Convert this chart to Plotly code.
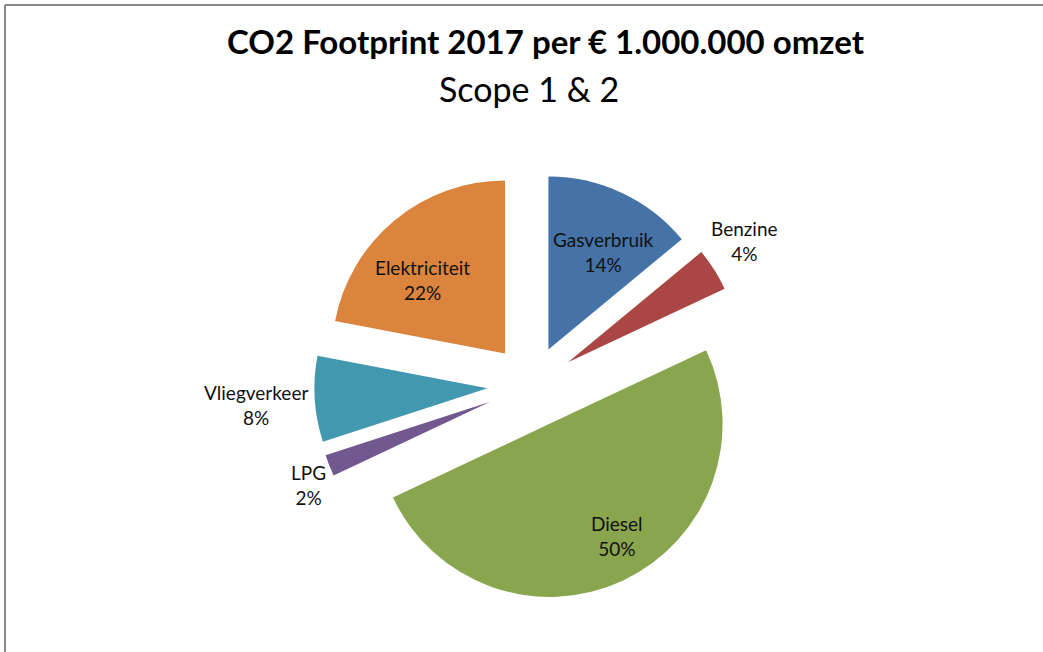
import math
import plotly.graph_objects as go

# ---- data ----
categories = ["Gasverbruik", "Benzine", "Diesel", "LPG", "Vliegverkeer", "Elektriciteit"]
values = [14, 4, 50, 2, 8, 22]
title_text = "CO2 Footprint 2017 per € 1.000.000 omzet"
subtitle_text = "Scope 1 & 2"

# ---- styles ----
colors = ["#4572A7", "#AA4643", "#89A54E", "#71588F", "#4198AF", "#DB843D"]
pulls = [0.23, 0.25, 0.245, 0.257, 0.255, 0.24]
# data-label placement (radius fraction from pie centre, angle offset in degrees)
label_rho = [0.876, 1.487, 1.0, 1.415, 1.596, 0.874]
label_dtheta = [3.0, -1.65, -4.4, -2.5, -0.55, -6.4]
FONT = "Lato"

W, H = 1043, 652
L, R, T, B = 100, 80, 168, 49
pw, ph = W - L - R, H - T - B


def px_x(x):
    return (x - L) / pw


def px_y(y):
    return 1 - (y - T) / ph


fig = go.Figure(
    go.Pie(
        labels=categories,
        values=values,
        sort=False,
        direction="clockwise",
        rotation=0,
        pull=pulls,
        marker=dict(colors=colors, line=dict(width=0)),
        textinfo="none",
        showlegend=False,
        hoverinfo="label+percent",
    )
)

# data labels, positioned from the slice angles (same geometry plotly uses)
total = sum(values)
cx, cy = L + pw / 2, T + ph / 2
radius = min(pw, ph) / (2 + 2 * max(pulls))
cum = 0
for cat, v, rho, dth in zip(categories, values, label_rho, label_dtheta):
    mid = (cum + v / 2) / total * 360 + dth
    cum += v
    a = math.radians(mid)
    lx = cx + rho * radius * math.sin(a)
    ly = cy - rho * radius * math.cos(a)
    fig.add_annotation(
        text=f"{cat}<br>{round(v / total * 100)}%",
        xref="paper", yref="paper",
        x=px_x(lx), y=px_y(ly),
        xanchor="center", yanchor="middle",
        showarrow=False,
        font=dict(family=FONT, size=19, color="#111111"),
    )

fig.add_annotation(
    text="<b>" + title_text + "</b>",
    xref="paper", yref="paper",
    x=px_x(545.7), y=px_y(41),
    xanchor="center", yanchor="middle",
    showarrow=False,
    font=dict(family=FONT, size=33, color="#000000"),
)
fig.add_annotation(
    text=subtitle_text,
    xref="paper", yref="paper",
    x=px_x(529.3), y=px_y(88),
    xanchor="center", yanchor="middle",
    showarrow=False,
    font=dict(family=FONT, size=34, color="#000000"),
)

# chart border (top and left visible)
border = dict(color="#868686", width=2)
fig.add_shape(type="line", xref="paper", yref="paper",
              x0=px_x(5), x1=px_x(W + 5), y0=px_y(5), y1=px_y(5), line=border)
fig.add_shape(type="line", xref="paper", yref="paper",
              x0=px_x(5), x1=px_x(5), y0=px_y(5), y1=px_y(H + 5), line=border)

fig.update_layout(
    width=W, height=H,
    margin=dict(l=L, r=R, t=T, b=B, autoexpand=False),
    paper_bgcolor="white",
    plot_bgcolor="white",
    font=dict(family=FONT),
)

fig.write_html(
    "out.html",
    config={"displayModeBar": False},
    post_script="document.body.style.margin='0';document.body.style.overflow='hidden';",
)
